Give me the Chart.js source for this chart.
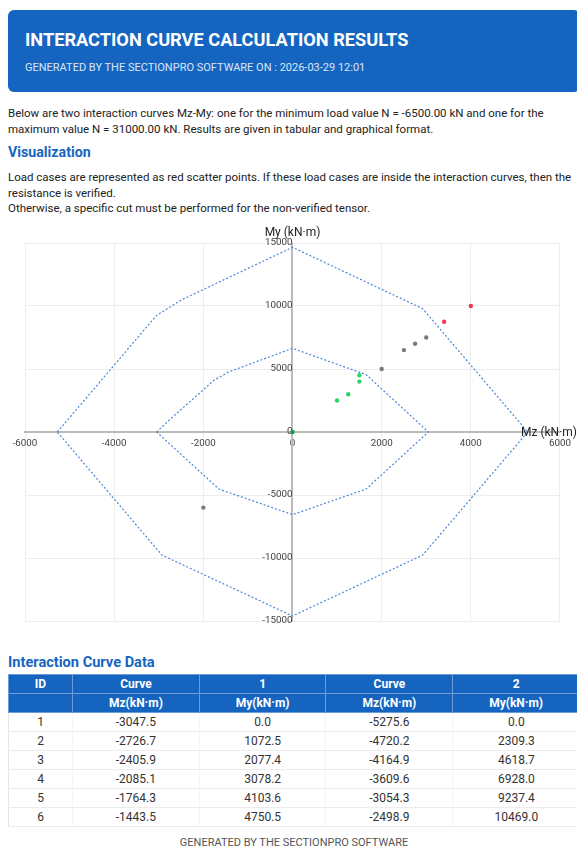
<!DOCTYPE html>
<html>
<head>
<meta charset="utf-8">
<title>Interaction Curve Calculation Results</title>
<script src="https://cdn.jsdelivr.net/npm/chart.js@4.4.1/dist/chart.umd.min.js"></script>
<style>
  html, body { margin: 0; padding: 0; overflow: hidden; background: #fff; }
  body { font-family: Roboto, "Noto Sans", sans-serif; color: #222; }
  .page { width: 572px; padding: 0 0 0 8px; }
  .header {
    margin-top: 10px; height: 82px; box-sizing: border-box;
    background: #1565c0; border-radius: 6px; color: #fff; padding: 19px 0 0 17px;
  }
  .header h1 { margin: 0; font-size: 18.2px; font-weight: 700; line-height: 22px; }
  .header p { margin: 9px 0 0; font-size: 11px; color: #d9e5f6; line-height: 16px; }
  p.txt { margin: 14px 0 0; font-size: 11.5px; line-height: 15.5px; width: 564px; }
  h2 { margin: 5px 0 0; font-size: 14.2px; color: #1565c0; line-height: 20px; }
  h2 + p.txt { margin-top: 8px; }
  h3 { margin: 13px 0 0; font-size: 14.6px; color: #1565c0; line-height: 18px; }
  .chart-box { position: relative; margin-left: -8px; width: 577px; height: 418px; margin-top: 5px; }
  table { border-collapse: collapse; width: 572px; margin-top: 3px; font-size: 12px; }
  th { background: #1565c0; color: #fff; font-weight: 700; border: 1px solid #6b9bdb; height: 18px; padding: 0; }
  td { text-align: center; height: 18px; padding: 0; color: #333; border-bottom: 1px solid #ececec; border-left: 1px solid #f4f4f4; }
  tr td:first-child { border-left: 1px solid #e4e4e4; }
  .footer { text-align: center; font-size: 11px; color: #555; margin-top: 9px; line-height: 14px; }
</style>
</head>
<body>
<div class="page">
  <div class="header">
    <h1>INTERACTION CURVE CALCULATION RESULTS</h1>
    <p>GENERATED BY THE SECTIONPRO SOFTWARE ON : 2026-03-29 12:01</p>
  </div>
  <p class="txt">Below are two interaction curves Mz-My: one for the minimum load value N = -6500.00 kN and one for the maximum value N = 31000.00 kN. Results are given in tabular and graphical format.</p>
  <h2>Visualization</h2>
  <p class="txt">Load cases are represented as red scatter points. If these load cases are inside the interaction curves, then the resistance is verified.<br>Otherwise, a specific cut must be performed for the non-verified tensor.</p>
  <div class="chart-box"><canvas id="chart"></canvas></div>
  <h3>Interaction Curve Data</h3>
  <table id="tbl">
    <thead>
      <tr><th style="width:63px">ID</th><th>Curve</th><th>1</th><th>Curve</th><th>2</th></tr>
      <tr><th></th><th>Mz(kN·m)</th><th>My(kN·m)</th><th>Mz(kN·m)</th><th>My(kN·m)</th></tr>
    </thead>
    <tbody></tbody>
  </table>
  <div class="footer">GENERATED BY THE SECTIONPRO SOFTWARE</div>
</div>
<script>
// curve 1 (N = 31000 kN): first 6 points from the table, the rest
const curve1Mz = [-3047.5, -2726.7, -2405.9, -2085.1, -1764.3, -1443.5, 0, 1650, 3047.5, 1650, 0, -1650, -3047.5]
const curve1My = [0.0, 1072.5, 2077.4, 3078.2, 4103.6, 4750.5, 6640, 4560, 0, -4530, -6560, -4530, 0.0]

// curve 2 (N = -6500 kN)
const curve2Mz = [-5275.6, -4720.2, -4164.9, -3609.6, -3054.3, -2498.9, 0, 2920, 5275.6, 2920, 0, -2930, -5275.6]
const curve2My = [0.0, 2309.3, 4618.7, 6928.0, 9237.4, 10469.0, 14660, 9790, 0, -9770, -14600, -9770, 0.0]

const tableRows = 6

// load cases
const okMz = [1000, 1250, 1500, 1500]
const okMy = [2500, 3000, 4000, 4500]
const midMz = [2000, 2500, 2750, 3000, -2000]
const midMy = [5000, 6500, 7000, 7500, -6000]
const failMz = [3400, 4000]
const failMy = [8750, 10000]
const originMz = [0]
const originMy = [0]

const xTicks = [-6000, 6000, 2000]   // min, max, step
const yTicks = [-15000, 15000, 5000]

const toPts = (xs, ys) => xs.map((x, i) => ({ x: x, y: ys[i] }))

// table
const tbody = document.querySelector('#tbl tbody')
for (let i = 0; i < tableRows; i++) {
  const tr = document.createElement('tr')
  const cells = [i + 1, curve1Mz[i].toFixed(1), curve1My[i].toFixed(1), curve2Mz[i].toFixed(1), curve2My[i].toFixed(1)]
  cells.forEach(c => {
    const td = document.createElement('td')
    td.textContent = c
    tr.appendChild(td)
  })
  tbody.appendChild(tr)
}

const axisTitles = {
  id: 'axisTitles',
  afterDraw(chart) {
    const ctx = chart.ctx
    const xs = chart.scales.x, ys = chart.scales.y
    ctx.save()
    ctx.fillStyle = '#222'
    ctx.font = '12px Roboto'
    ctx.textBaseline = 'middle'
    ctx.textAlign = 'center'
    ctx.fillText('My (kN·m)', xs.getPixelForValue(0), chart.chartArea.top - 10)
    ctx.textAlign = 'right'
    ctx.fillText('Mz (kN·m)', chart.width, ys.getPixelForValue(0) + 1)
    ctx.restore()
  }
}

const curveStyle = {
  showLine: true,
  borderColor: '#4a86d6',
  borderWidth: 1.2,
  borderDash: [2, 2],
  pointRadius: 0,
  fill: false,
  tension: 0
}
const dotStyle = (c) => ({ backgroundColor: c, borderColor: c, pointRadius: 2.2, borderWidth: 0, showLine: false })
const tickFont = { family: 'Roboto', size: 9.8 }
// plain numbers, no thousands separator (string so that 0 is still drawn)
const plain = v => String(v)

const ctx = document.getElementById('chart')

new Chart(ctx, {
  type: 'scatter',
  data: {
    datasets: [
      Object.assign({ label: 'Curve 1', data: toPts(curve1Mz, curve1My) }, curveStyle),
      Object.assign({ label: 'Curve 2', data: toPts(curve2Mz, curve2My) }, curveStyle),
      Object.assign({ label: 'Verified', data: toPts(okMz, okMy) }, dotStyle('#2bd46a')),
      Object.assign({ label: 'Between', data: toPts(midMz, midMy) }, dotStyle('#7a7a7a')),
      Object.assign({ label: 'Not verified', data: toPts(failMz, failMy) }, dotStyle('#f2335b')),
      Object.assign({ label: 'Origin', data: toPts(originMz, originMy) }, dotStyle('#12a04a'))
    ]
  },
  options: {
    responsive: true,
    maintainAspectRatio: false,
    animation: false,
    layout: { padding: { left: 25, right: 14, top: 21, bottom: 19 } },
    plugins: { legend: { display: false }, tooltip: { enabled: false } },
    scales: {
      x: {
        type: 'linear',
        min: xTicks[0], max: xTicks[1],
        position: { y: 0 },
        afterFit: s => { s.height = 0 },
        ticks: { stepSize: xTicks[2], color: '#444', font: tickFont, padding: 6, maxRotation: 0, callback: plain },
        grid: { color: '#ededed', drawTicks: false },
        border: { color: '#bbb', width: 2 }
      },
      y: {
        type: 'linear',
        min: yTicks[0], max: yTicks[1],
        position: { x: 0 },
        afterFit: s => { s.width = 0 },
        ticks: { stepSize: yTicks[2], color: '#444', font: tickFont, padding: 3, callback: plain },
        grid: { color: '#ededed', drawTicks: false },
        border: { color: '#bbb', width: 2 }
      }
    }
  },
  plugins: [axisTitles]
})
</script>
</body>
</html>
